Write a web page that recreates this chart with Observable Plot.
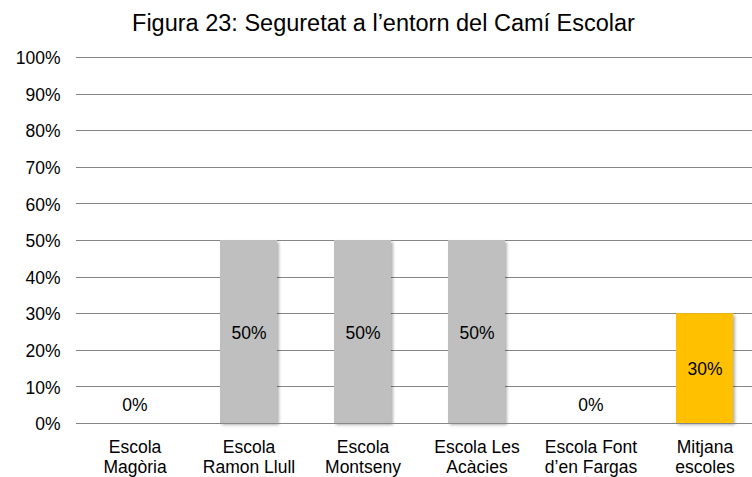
<!DOCTYPE html>
<html>
<head>
<meta charset="utf-8">
<script src="https://cdn.jsdelivr.net/npm/d3@7"></script>
<script src="https://cdn.jsdelivr.net/npm/@observablehq/plot@0.6"></script>
<style>
  html, body { margin: 0; padding: 0; background: #fff; overflow: hidden; width: 752px; height: 477px; }
  #title { width: 767px; height: 46px; text-align: center; font-family: "Liberation Sans", Arial, sans-serif; font-size: 23.5px; line-height: 46px; color: #000; white-space: nowrap; }
  #chart svg { max-width: none !important; display: block; }
</style>
</head>
<body>
<div id="title">Figura 23: Seguretat a l’entorn del Camí Escolar</div>
<div id="chart"></div>
<script>
const categories = ["Escola\nMagòria", "Escola\nRamon Llull", "Escola\nMontseny", "Escola Les\nAcàcies", "Escola Font\nd’en Fargas", "Mitjana\nescoles"];
const values = [0, 50, 50, 50, 0, 30];
const yTicks = [0, 10, 20, 30, 40, 50, 60, 70, 80, 90, 100];

const data = categories.map((c, i) => ({category: c, value: values[i]}));

const plot = Plot.plot({
  width: 765,
  height: 431,
  marginTop: 11,
  marginBottom: 54,
  marginLeft: 76,
  marginRight: 2,
  style: {fontFamily: "\"Liberation Sans\", Arial, sans-serif", fontSize: "17.5px", color: "#000", background: "#fff", maxWidth: "none"},
  x: {domain: categories, paddingInner: 0.5, paddingOuter: 0.25, label: null},
  y: {domain: [0, 100], label: null},
  marks: [
    Plot.gridY(yTicks, {stroke: "#868686", strokeOpacity: 1, strokeWidth: 1}),
    Plot.barY(data, {x: "category", y: "value", fill: d => d.category.startsWith("Mitjana") ? "#FFC000" : "#BFBFBF"}),
    Plot.ruleX([0], {frameAnchor: "left", stroke: "#868686", strokeWidth: 1}),
    Plot.ruleY([0], {stroke: "#868686", strokeWidth: 1}),
    Plot.text(data.filter(d => d.value > 0), {x: "category", y: d => d.value / 2, text: d => d.value + "%", fill: "#000", fontSize: 17.5, dy: 1}),
    Plot.text(data.filter(d => d.value === 0), {x: "category", y: "value", text: d => d.value + "%", dy: -18, fill: "#000", fontSize: 17.5}),
    Plot.axisY(yTicks, {tickSize: 0, tickPadding: 16, tickFormat: d => d + "%", fontSize: 17.5, dy: 1, label: null}),
    Plot.axisX({tickSize: 0, tickPadding: 15, fontSize: 17.5, lineHeight: 1.14, label: null})
  ]
});

// subtle drop shadow on bars
const svg = d3.select(plot);
const defs = svg.insert("defs", ":first-child");
const f = defs.append("filter").attr("id", "sh").attr("x", "-20%").attr("y", "-20%").attr("width", "150%").attr("height", "150%");
f.append("feDropShadow").attr("dx", 2).attr("dy", 2).attr("stdDeviation", 1.5).attr("flood-color", "#000").attr("flood-opacity", 0.3);
svg.selectAll("g[aria-label='bar']").attr("filter", "url(#sh)");
svg.selectAll("g[aria-label='y-grid'] line").attr("shape-rendering", "crispEdges");
plot.style.maxWidth = "none";

document.getElementById("chart").appendChild(plot);
</script>
</body>
</html>
